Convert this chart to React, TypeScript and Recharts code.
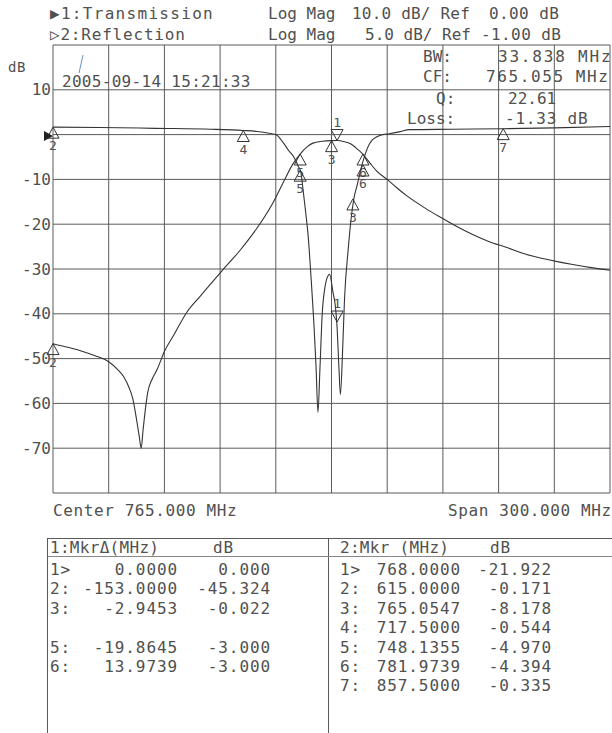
import { ComposedChart, Line, Scatter, XAxis, YAxis, CartesianGrid, ReferenceLine } from 'recharts';

// frequency axis: center 765 MHz, span 300 MHz
const freqTicks = [615, 645, 675, 705, 735, 765, 795, 825, 855, 885, 915];
// trace 1 scale: 10 dB/div, ref 0 dB
const dbTicks = [20, 10, 0, -10, -20, -30, -40, -50, -60, -70, -80];
const dbLabels = [10, -10, -20, -30, -40, -50, -60, -70];

// 1: Transmission (10 dB/div)
const transFreq = [615, 620, 625, 631, 638, 645, 650, 653, 656, 658, 660, 661.5, 662.5, 663.5, 665, 666, 668.5, 671, 675, 680, 687, 694, 706, 716, 725, 733.5, 739, 744, 748, 752, 755, 760, 765, 768, 772, 775, 778, 782, 786, 789.5, 795, 800, 806, 815, 823, 832, 841, 850, 859.5, 868, 877, 886, 895, 905, 915];
const transDb = [-46.7, -47.2, -47.7, -48.4, -49.4, -50.7, -52.5, -54, -56.5, -59, -63.6, -67.5, -70, -66, -60.5, -57.6, -54.5, -52.5, -48.4, -44.8, -39.7, -36.2, -30.4, -25.7, -20.8, -15.2, -10.7, -6.7, -4.4, -2.7, -1.9, -1.5, -1.35, -1.33, -1.6, -2.0, -2.9, -4.4, -6.5, -8.2, -10, -11.8, -13.8, -16.3, -18.3, -20.4, -22.3, -23.9, -25.2, -26.5, -27.5, -28.3, -29, -29.7, -30.3];

// 2: Reflection (5 dB/div, ref -1 dB)
const reflFreq = [615, 640, 670, 700, 717.5, 725, 730, 735, 739, 742, 745, 747, 748.5, 749.6, 751, 752.5, 754, 755.5, 756.7, 757.7, 758.8, 760, 761.5, 763, 764, 765.8, 767, 768, 769, 769.8, 771, 772, 774, 775.5, 777, 779, 781.4, 784, 787, 792.7, 796, 802, 807, 830, 857.5, 885, 915];
const reflDb = [-0.17, -0.2, -0.3, -0.4, -0.54, -0.65, -0.8, -1.0, -1.9, -2.8, -3.6, -4.5, -5.2, -7.0, -9.5, -12.5, -17, -22, -27, -32, -27, -21, -18, -16.8, -16.6, -18.6, -20, -22.5, -27, -30, -25, -19.4, -13.8, -10.5, -8.2, -6.5, -4.4, -2.7, -1.6, -1.0, -0.9, -0.67, -0.45, -0.4, -0.34, -0.25, -0.1];

// markers
const transMkrFreq = [768, 765.05, 748.14, 781.97, 615];
const transMkrDb = [-1.33, -1.35, -4.33, -4.33, -46.65];
const transMkrLabel = ['1', '3', '5', '6', '2'];
const transMkrDown = [true, false, false, false, false];

const reflMkrFreq = [768, 615, 776.5, 717.5, 748.14, 781.97, 857.5];
const reflMkrDb = [-21.92, -0.171, -8.18, -0.544, -4.97, -4.394, -0.335];
const reflMkrLabel = ['1', '2', '3', '4', '5', '6', '7'];
const reflMkrDown = [true, false, false, false, false, false, false];

// marker tables
const mkr1Rows = [
  ['1>', '0.0000', '0.000'],
  ['2:', '-153.0000', '-45.324'],
  ['3:', '-2.9453', '-0.022'],
  ['', '', ''],
  ['5:', '-19.8645', '-3.000'],
  ['6:', '13.9739', '-3.000'],
];
const mkr2Rows = [
  ['1>', '768.0000', '-21.922'],
  ['2:', '615.0000', '-0.171'],
  ['3:', '765.0547', '-8.178'],
  ['4:', '717.5000', '-0.544'],
  ['5:', '748.1355', '-4.970'],
  ['6:', '781.9739', '-4.394'],
  ['7:', '857.5000', '-0.335'],
];

const transData = transFreq.map((f, i) => ({ f, v: transDb[i] }));
const reflData = reflFreq.map((f, i) => ({ f, v: reflDb[i] }));
const transMkrs = transMkrFreq.map((f, i) => ({ f, v: transMkrDb[i], label: transMkrLabel[i], down: transMkrDown[i] }));
const reflMkrs = reflMkrFreq.map((f, i) => ({ f, v: reflMkrDb[i], label: reflMkrLabel[i], down: reflMkrDown[i] }));

const INK = '#505050';
const GRID = '#5a5a5a';
const FONT = '"DejaVu Sans Mono", monospace';

const DbTick = (props: any) => {
  const { x, y, payload } = props;
  if (!dbLabels.includes(payload.value)) return <g />;
  return (
    <text x={x} y={y} textAnchor="end" dominantBaseline="central" fontFamily={FONT} fontSize={16} fill={INK}>
      {payload.value}
    </text>
  );
};

const Mkr = (props: any) => {
  const { cx, cy, payload } = props;
  if (cx == null || cy == null) return <g />;
  if (payload.down) {
    return (
      <g>
        <path d={`M${cx},${cy} L${cx - 6},${cy - 11} L${cx + 6},${cy - 11} Z`} fill="none" stroke="#333" strokeWidth={1} />
        <text x={cx} y={cy - 14} textAnchor="middle" fontFamily={FONT} fontSize={13} fill={INK}>{payload.label}</text>
      </g>
    );
  }
  return (
    <g>
      <path d={`M${cx},${cy} L${cx - 6},${cy + 11} L${cx + 6},${cy + 11} Z`} fill="none" stroke="#333" strokeWidth={1} />
      <text x={cx} y={cy + 23} textAnchor="middle" fontFamily={FONT} fontSize={13} fill={INK}>{payload.label}</text>
    </g>
  );
};

const txt = { fontFamily: FONT, fontSize: 16, fill: INK, letterSpacing: 0 } as const;
const tbl = { fontFamily: FONT, fontSize: 16, fill: INK, letterSpacing: 0.9 } as const;

export default function App() {
  return (
    <div style={{ position: 'absolute', left: 0, top: 0, width: 612, height: 733, background: '#fff', overflow: 'hidden' }}>
      <ComposedChart width={612} height={520} margin={{ top: 45, right: 2, bottom: 27, left: 0 }}>
        <CartesianGrid yAxisId="t" stroke={GRID} strokeWidth={1} vertical={false} horizontalValues={dbTicks} />
        <XAxis dataKey="f" type="number" domain={[615, 915]} ticks={freqTicks} height={0} tick={false} axisLine={false} tickLine={false} />
        <YAxis yAxisId="t" type="number" domain={[-80, 20]} ticks={dbTicks} width={53} tickSize={0} tickMargin={2} axisLine={false} tickLine={false} tick={<DbTick />} interval={0} />
        <YAxis yAxisId="r" type="number" domain={[-41, 9]} orientation="right" hide />
        {freqTicks.map((f) => (
          <ReferenceLine key={f} yAxisId="t" x={f} stroke={GRID} strokeWidth={1} />
        ))}
        <Line yAxisId="t" data={transData} dataKey="v" type="monotone" stroke="#333" strokeWidth={1.1} dot={false} isAnimationActive={false} />
        <Line yAxisId="r" data={reflData} dataKey="v" type="monotone" stroke="#333" strokeWidth={1.1} dot={false} isAnimationActive={false} />
        <Scatter yAxisId="t" data={transMkrs} dataKey="v" shape={<Mkr />} isAnimationActive={false} />
        <Scatter yAxisId="r" data={reflMkrs} dataKey="v" shape={<Mkr />} isAnimationActive={false} />
      </ComposedChart>
      <svg width={612} height={733} style={{ position: 'absolute', left: 0, top: 0, pointerEvents: 'none' }}>
        {/* header */}
        <text x={50} y={19} {...txt} letterSpacing={1.3}>▶1:Transmission</text>
        <text x={268} y={19} {...txt}>Log Mag</text>
        <text x={352} y={19} {...txt} letterSpacing={0.2}>10.0 dB/ Ref</text>
        <text x={489} y={19} {...txt} letterSpacing={0.4}>0.00 dB</text>
        <text x={50} y={40} {...txt} letterSpacing={0.8}>▷2:Reflection</text>
        <text x={268} y={40} {...txt}>Log Mag</text>
        <text x={365} y={40} {...txt}>5.0 dB/ Ref</text>
        <text x={481} y={40} {...txt} letterSpacing={0.4}>-1.00 dB</text>
        <text x={8} y={72} {...txt} fontSize={14} letterSpacing={0.5}>dB</text>
        <text x={62} y={87} {...txt} letterSpacing={0.3}>2005-09-14 15:21:33</text>
        <line x1={83} y1={55} x2={79} y2={73} stroke="#6a8fc8" strokeWidth={1} />
        {/* bandwidth readout */}
        <text x={423} y={62} {...txt}>BW:</text>
        <text x={498} y={62} {...txt} letterSpacing={1.8}>33.838 MHz</text>
        <text x={423} y={82} {...txt}>CF:</text>
        <text x={486} y={82} {...txt} letterSpacing={1.6}>765.055 MHz</text>
        <text x={436} y={104} {...txt}>Q:</text>
        <text x={508} y={104} {...txt}>22.61</text>
        <text x={407} y={124} {...txt}>Loss:</text>
        <text x={505} y={124} {...txt} letterSpacing={0.8}>-1.33 dB</text>
        {/* reference position marker */}
        <path d="M44,131 L53,136 L44,141 Z" fill="#222" />
        {/* footer */}
        <text x={53} y={516} {...txt} letterSpacing={0.6}>Center 765.000 MHz</text>
        <text x={448} y={516} {...txt} letterSpacing={0.6}>Span 300.000 MHz</text>
        {/* marker tables */}
        <rect x={47.5} y={538.5} width={570} height={200} fill="none" stroke={GRID} />
        <line x1={328.5} y1={538} x2={328.5} y2={733} stroke={GRID} />
        <line x1={48} y1={556.5} x2={612} y2={556.5} stroke="#888" />
        <text x={50} y={553} {...tbl} letterSpacing={0.3}>1:MkrΔ(MHz)</text>
        <text x={213} y={553} {...tbl}>dB</text>
        <text x={340} y={553} {...tbl} letterSpacing={0.3}>2:Mkr (MHz)</text>
        <text x={490} y={553} {...tbl}>dB</text>
        {mkr1Rows.map((r, i) => (
          <g key={'a' + i}>
            <text x={50} y={575 + i * 19.4} {...tbl}>{r[0]}</text>
            <text x={178} y={575 + i * 19.4} {...tbl} textAnchor="end">{r[1]}</text>
            <text x={271} y={575 + i * 19.4} {...tbl} textAnchor="end">{r[2]}</text>
          </g>
        ))}
        {mkr2Rows.map((r, i) => (
          <g key={'b' + i}>
            <text x={340} y={575 + i * 19.4} {...tbl}>{r[0]}</text>
            <text x={461} y={575 + i * 19.4} {...tbl} textAnchor="end">{r[1]}</text>
            <text x={552} y={575 + i * 19.4} {...tbl} textAnchor="end">{r[2]}</text>
          </g>
        ))}
      </svg>
    </div>
  );
}
